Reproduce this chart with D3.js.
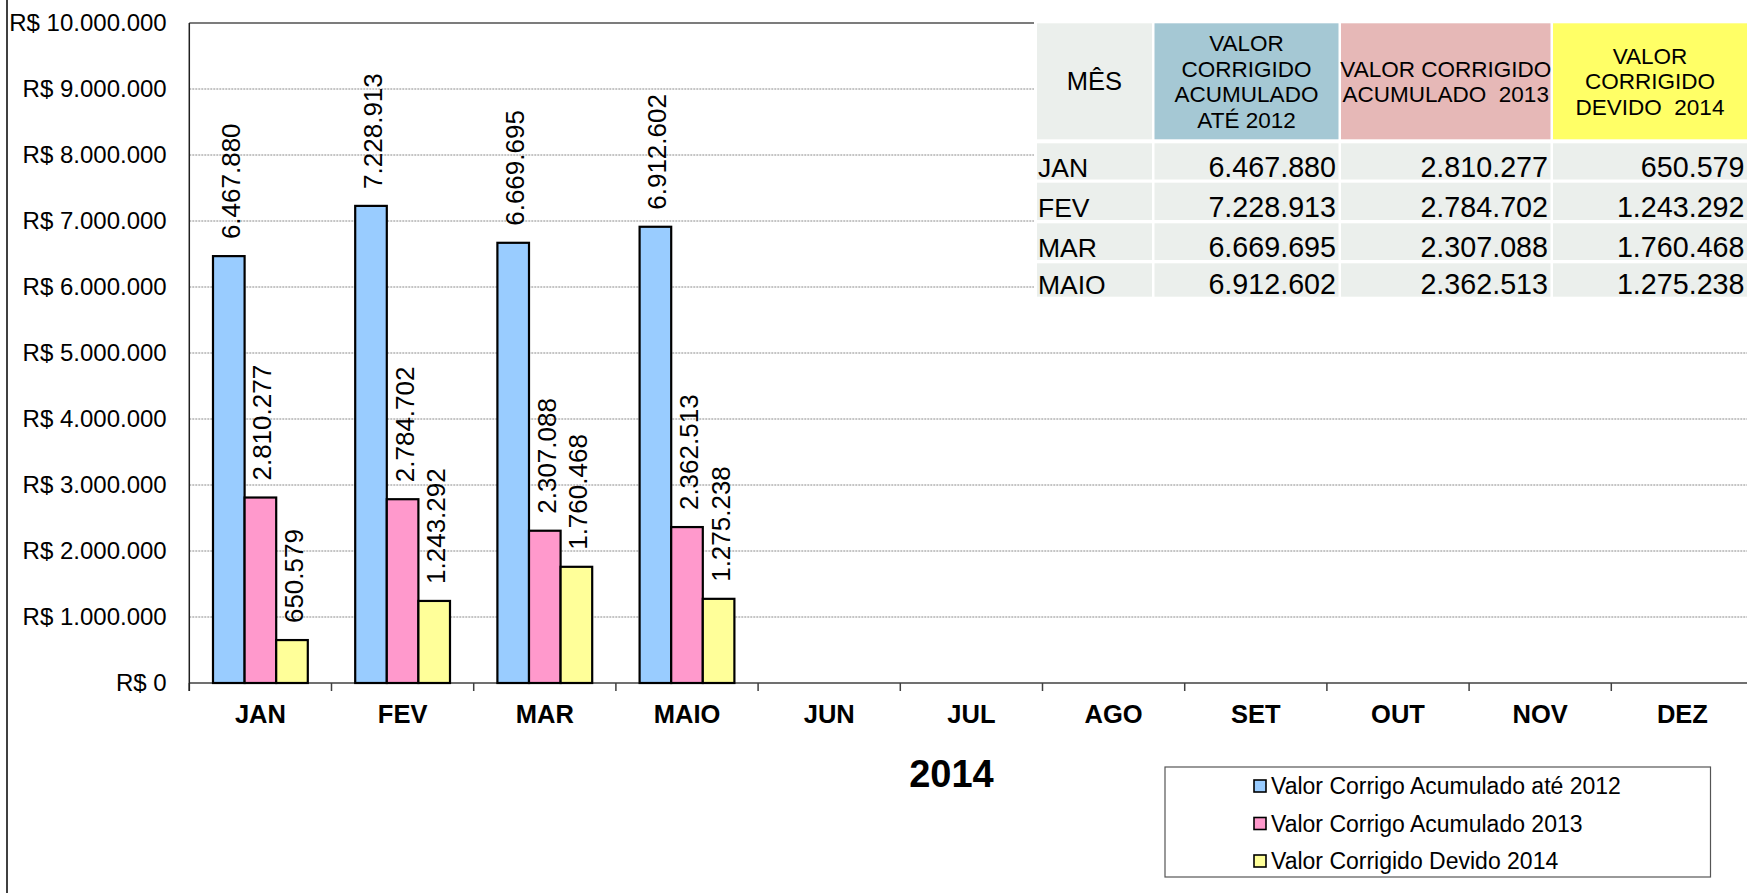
<!DOCTYPE html>
<html>
<head>
<meta charset="utf-8">
<script src="https://cdn.jsdelivr.net/npm/d3@7"></script>
<style>
    body { margin: 0; background: #fff; }
    svg { display: block; font-family: "Liberation Sans", Arial, sans-serif; }
</style>
</head>
<body>
<div id="chart"></div>
<script>
// --- data ---
var months = ["JAN", "FEV", "MAR", "MAIO", "JUN", "JUL", "AGO", "SET", "OUT", "NOV", "DEZ"];
var seriesNames = ["Valor Corrigo Acumulado até 2012", "Valor Corrigo Acumulado 2013", "Valor Corrigido Devido 2014"];
var acumulado2012 = [6467880, 7228913, 6669695, 6912602];
var acumulado2013 = [2810277, 2784702, 2307088, 2362513];
var devido2014 = [650579, 1243292, 1760468, 1275238];
var tableMonths = ["JAN", "FEV", "MAR", "MAIO"];
var tableHeaders = [
    ["MÊS"],
    ["VALOR", "CORRIGIDO", "ACUMULADO", "ATÉ 2012"],
    ["VALOR CORRIGIDO", "ACUMULADO  2013"],
    ["VALOR", "CORRIGIDO", "DEVIDO  2014"]
];
var axisTitle = "2014";

var barColors = ["#99ccff", "#ff99cc", "#ffff99"];
var headerColors = ["#ebefec", "#a5c8d4", "#e6b8b7", "#ffff66"];

var W = 1747, H = 893;
var plotLeft = 189.3, plotTop = 23, plotBottom = 683, bandW = 142.2;

var svg = d3.select("#chart").append("svg")
    .attr("width", W)
    .attr("height", H);

var br = d3.formatLocale({decimal: ",", thousands: ".", grouping: [3], currency: ["R$ ", ""]});
var fmt = br.format(",d"),
    fmtR = br.format("$,d");

var x0 = d3.scaleBand().domain(months).range([plotLeft, plotLeft + bandW * months.length]),
    x1 = d3.scaleBand().domain([0, 1, 2]).range([0, x0.bandwidth()]).paddingOuter(0.75),
    y = d3.scaleLinear().domain([0, 10000000]).range([plotBottom, plotTop]);

// outer chart border (left side only visible)
svg.append("line")
    .attr("x1", 7).attr("x2", 7).attr("y1", 0).attr("y2", H)
    .attr("stroke", "#404040").attr("stroke-width", 2);

// gridlines
svg.append("g").selectAll("line")
    .data(y.ticks(10).filter(function (d) { return d > 0 && d < 10000000; }))
    .join("line")
    .attr("x1", plotLeft).attr("x2", W)
    .attr("y1", function (d) { return y(d); })
    .attr("y2", function (d) { return y(d); })
    .attr("stroke", "#8a8a8a").attr("stroke-width", 1)
    .attr("stroke-dasharray", "2,1");

svg.append("line")
    .attr("x1", plotLeft).attr("x2", W)
    .attr("y1", y(10000000)).attr("y2", y(10000000))
    .attr("stroke", "#505050").attr("stroke-width", 1.5);

// y axis
var yAxis = d3.axisLeft(y).ticks(10).tickSize(0).tickPadding(22.6).tickFormat(fmtR);
var gy = svg.append("g")
    .attr("transform", "translate(" + plotLeft + ",0)")
    .call(yAxis);
gy.select(".domain").remove();
gy.selectAll("text")
    .attr("font-family", "Liberation Sans, Arial, sans-serif")
    .attr("font-size", 24)
    .attr("fill", "#000");

// x axis
var xAxis = d3.axisBottom(x0).tickSize(0).tickPadding(21.5);
var gx = svg.append("g")
    .attr("transform", "translate(0," + plotBottom + ")")
    .call(xAxis);
gx.select(".domain").remove();
gx.selectAll("text")
    .attr("font-family", "Liberation Sans, Arial, sans-serif")
    .attr("font-size", 25.5)
    .attr("font-weight", "bold")
    .attr("fill", "#000");

// category boundary ticks
var bounds = months.map(function (m) { return x0(m); }).concat([x0.range()[1]]);
svg.append("g").selectAll("line")
    .data(bounds)
    .join("line")
    .attr("x1", function (d) { return d; }).attr("x2", function (d) { return d; })
    .attr("y1", plotBottom).attr("y2", plotBottom + 8)
    .attr("stroke", "#404040").attr("stroke-width", 1.5);

// axis lines
svg.append("line")
    .attr("x1", plotLeft).attr("x2", W)
    .attr("y1", plotBottom).attr("y2", plotBottom)
    .attr("stroke", "#404040").attr("stroke-width", 1.5);
svg.append("line")
    .attr("x1", plotLeft).attr("x2", plotLeft)
    .attr("y1", plotTop).attr("y2", plotBottom + 8)
    .attr("stroke", "#202020").attr("stroke-width", 1.5);

// bars
var series = [acumulado2012, acumulado2013, devido2014];
var barData = [];
tableMonths.forEach(function (m, i) {
    series.forEach(function (s, k) {
        barData.push({month: m, k: k, value: s[i]});
    });
});

svg.append("g").selectAll("rect")
    .data(barData)
    .join("rect")
    .attr("x", function (d) { return x0(d.month) + x1(d.k); })
    .attr("y", function (d) { return y(d.value); })
    .attr("width", x1.bandwidth())
    .attr("height", function (d) { return plotBottom - y(d.value); })
    .attr("fill", function (d) { return barColors[d.k]; })
    .attr("stroke", "#000")
    .attr("stroke-width", 2.2);

svg.append("g").selectAll("text")
    .data(barData)
    .join("text")
    .attr("transform", function (d) {
        var cx = x0(d.month) + x1(d.k) + x1.bandwidth() / 2 + 2;
        return "translate(" + cx + "," + (y(d.value) - 17) + ") rotate(-90)";
    })
    .attr("text-anchor", "start")
    .attr("dominant-baseline", "central")
    .attr("font-size", 26)
    .text(function (d) { return fmt(d.value); });

// axis title
svg.append("text")
    .attr("x", 951.5).attr("y", 786.7)
    .attr("text-anchor", "middle")
    .attr("font-size", 38)
    .attr("font-weight", "bold")
    .text(axisTitle);

// table overlay
var colEdges = [[1037, 1152], [1154.5, 1338.5], [1341, 1550.5], [1553, 1747]];
var rowEdges = [[23.3, 139.3], [143.3, 179.5], [182.7, 220], [223.3, 260], [263.3, 296.7]];
var table = svg.append("g");

table.append("rect")
    .attr("x", 1034).attr("y", 21)
    .attr("width", W - 1034).attr("height", 278)
    .attr("fill", "#fff");

// header cells
table.selectAll("rect.head")
    .data(tableHeaders)
    .join("rect")
    .attr("class", "head")
    .attr("x", function (d, i) { return colEdges[i][0]; })
    .attr("y", rowEdges[0][0])
    .attr("width", function (d, i) { return colEdges[i][1] - colEdges[i][0]; })
    .attr("height", rowEdges[0][1] - rowEdges[0][0])
    .attr("fill", function (d, i) { return headerColors[i]; });

tableHeaders.forEach(function (lines, i) {
    var cx = (colEdges[i][0] + colEdges[i][1]) / 2,
        cy = (rowEdges[0][0] + rowEdges[0][1]) / 2,
        fs = i === 0 ? 25.5 : 22.5,
        lh = 25.4,
        first = cy - (lines.length - 1) * lh / 2 + fs * 0.36;
    table.append("text")
        .attr("text-anchor", "middle")
        .attr("font-size", fs)
        .style("white-space", "pre")
        .selectAll("tspan")
        .data(lines)
        .join("tspan")
        .attr("x", cx)
        .attr("y", function (d, j) { return first + j * lh; })
        .text(function (d) { return d; });
});

// body cells
tableMonths.forEach(function (m, r) {
    var row = rowEdges[r + 1];
    var vals = [m, fmt(acumulado2012[r]), fmt(acumulado2013[r]), fmt(devido2014[r])];
    vals.forEach(function (v, c) {
        table.append("rect")
            .attr("x", colEdges[c][0]).attr("y", row[0])
            .attr("width", colEdges[c][1] - colEdges[c][0])
            .attr("height", row[1] - row[0])
            .attr("fill", "#ebefec");
        table.append("text")
            .attr("x", c === 0 ? colEdges[c][0] + 1 : colEdges[c][1] - 2.5)
            .attr("y", row[1] - 3)
            .attr("text-anchor", c === 0 ? "start" : "end")
            .attr("font-size", c === 0 ? 26.5 : 28.7)
            .text(v);
    });
});

// legend
var legend = svg.append("g");
legend.append("rect")
    .attr("x", 1165).attr("y", 767)
    .attr("width", 545.5).attr("height", 110)
    .attr("fill", "#fff")
    .attr("stroke", "#555").attr("stroke-width", 1.2);

var li = legend.selectAll("g.item")
    .data(seriesNames)
    .join("g")
    .attr("class", "item")
    .attr("transform", function (d, i) { return "translate(1254," + (786 + i * 37.5) + ")"; });
li.append("rect")
    .attr("x", 0).attr("y", -6)
    .attr("width", 12).attr("height", 12)
    .attr("fill", function (d, i) { return barColors[i]; })
    .attr("stroke", "#000").attr("stroke-width", 1.6);
li.append("text")
    .attr("x", 17).attr("y", 0)
    .attr("dominant-baseline", "central")
    .attr("font-size", 23)
    .text(function (d) { return d; });
</script>
</body>
</html>
